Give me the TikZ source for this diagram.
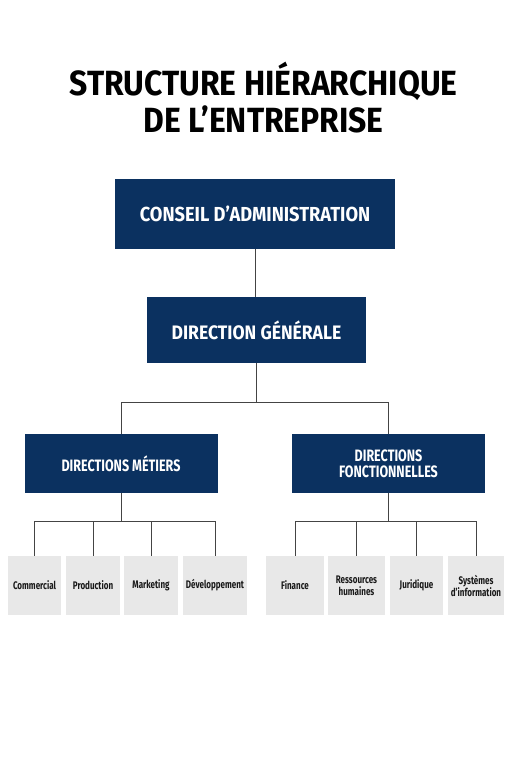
\documentclass[tikz,border=0pt]{standalone}
\usepackage{fontspec}
\setmainfont{Fira Sans}
\newfontfamily\fttl{Fira Sans}[FakeStretch=0.91]
\newfontfamily\fbig{Fira Sans}[FakeStretch=0.9]
\newfontfamily\fmid{Fira Sans}[FakeStretch=0.76]
\newfontfamily\fleaf{Fira Sans}[FakeStretch=0.73]
\definecolor{navy}{HTML}{0B3160}
\definecolor{lgray}{HTML}{E8E8E8}
\definecolor{lnk}{HTML}{444444}
\tikzset{
  big/.style={fill=navy, text=white, inner sep=0pt, font=\fbig\bfseries\fontsize{20.3}{24}\selectfont, align=center},
  mid/.style={fill=navy, text=white, inner sep=0pt, font=\fmid\bfseries\fontsize{16.5}{16}\selectfont, align=center, minimum width=193pt, minimum height=59pt},
  leaf/.style={fill=lgray, text=black!90, inner sep=0pt, font=\fleaf\bfseries\fontsize{11}{12}\selectfont, align=center, minimum height=59pt},
  link/.style={draw=lnk, line width=1pt},
  ttl/.style={font=\fttl\bfseries\fontsize{35}{37}\selectfont, anchor=base, inner sep=0pt}
}
\begin{document}
\begin{tikzpicture}[x=1pt,y=-1pt]
\path[fill=white] (0,0) rectangle (511,768);
\useasboundingbox (0,0) rectangle (511,768);
\node[ttl] (t1) at (263.5,95) {STRUCTURE HIÉRARCHIQUE};
\node[ttl] (t2) at (263.5,132) {DE L’ENTREPRISE};
\node[big, minimum width=280pt, minimum height=70pt] (ca) at (255,214) {CONSEIL D’ADMINISTRATION};
\node[big, minimum width=219pt, minimum height=66pt] (dg) at (256.5,330) {\fontsize{19.5}{24}\selectfont DIRECTION GÉNÉRALE};
\node[mid] (dm) at (121,463.5) {DIRECTIONS MÉTIERS};
\node[mid] (df) at (388.5,463.5) {DIRECTIONS\\FONCTIONNELLES};
\node[leaf, minimum width=53pt] (l1) at (34.5,585.5) {Commercial};
\node[leaf, minimum width=54pt] (l2) at (93,585.5) {Production};
\node[leaf, minimum width=54pt] (l3) at (151,585.5) {Marketing};
\node[leaf, minimum width=64pt] (l4) at (215,585.5) {Développement};
\node[leaf, minimum width=58pt] (r1) at (295,585.5) {Finance};
\node[leaf, minimum width=57pt] (r2) at (356.5,585.5) {Ressources\\humaines};
\node[leaf, minimum width=53pt] (r3) at (416.5,585.5) {Juridique};
\node[leaf, minimum width=56pt] (r4) at (476,585.5) {Systèmes\\d’information};
\coordinate (bus1) at (0,402);
\coordinate (bus2) at (0,521);
\draw[link] (ca.south) -- (ca.south |- dg.north);
\draw[link] (dg.south) -- (dg.south |- bus1);
\draw[link] (dm.north) -- (dm.north |- bus1) -- (df.north |- bus1) -- (df.north);
\draw[link] (dm.south) -- (dm.south |- bus2);
\draw[link] (l1.north) -- (l1.north |- bus2) -- (l4.north |- bus2) -- (l4.north);
\draw[link] (l2.north) -- (l2.north |- bus2);
\draw[link] (l3.north) -- (l3.north |- bus2);
\draw[link] (df.south) -- (df.south |- bus2);
\draw[link] (r1.north) -- (r1.north |- bus2) -- (r4.north |- bus2) -- (r4.north);
\draw[link] (r2.north) -- (r2.north |- bus2);
\draw[link] (r3.north) -- (r3.north |- bus2);
\end{tikzpicture}
\end{document}
